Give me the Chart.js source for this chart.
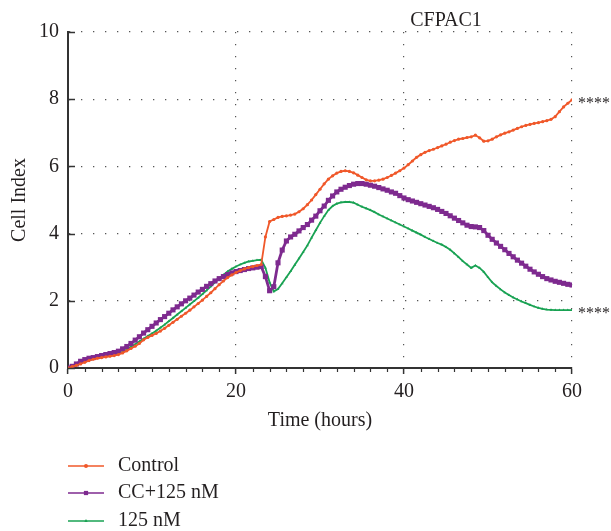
<!DOCTYPE html>
<html>
<head>
<meta charset="utf-8">
<title>CFPAC1 cell index</title>
<script src="https://cdn.jsdelivr.net/npm/chart.js"></script>
<style>
  html, body { margin: 0; padding: 0; background: #fff; }
  #wrap { width: 611px; height: 531px; }
</style>
</head>
<body>
<div id="wrap"><canvas id="cellChart" width="611" height="531"></canvas></div>
<script>
/* Cell index curves for CFPAC1, every half hour */

const chartTitle = 'CFPAC1';
const seriesNames = ['Control', 'CC+125 nM', '125 nM'];
const seriesColors = ['#f0582a', '#7e2a8f', '#19a253'];
const significance = '****';

// time axis (hours)
const times = [
  0, 0.5, 1, 1.5, 2, 2.5, 3, 3.5, 4, 4.5,
  5, 5.5, 6, 6.5, 7, 7.5, 8, 8.5, 9, 9.5,
  10, 10.5, 11, 11.5, 12, 12.5, 13, 13.5, 14, 14.5,
  15, 15.5, 16, 16.5, 17, 17.5, 18, 18.5, 19, 19.5,
  20, 20.5, 21, 21.5, 22, 22.5, 23, 23.5, 24, 24.5,
  25, 25.5, 26, 26.5, 27, 27.5, 28, 28.5, 29, 29.5,
  30, 30.5, 31, 31.5, 32, 32.5, 33, 33.5, 34, 34.5,
  35, 35.5, 36, 36.5, 37, 37.5, 38, 38.5, 39, 39.5,
  40, 40.5, 41, 41.5, 42, 42.5, 43, 43.5, 44, 44.5,
  45, 45.5, 46, 46.5, 47, 47.5, 48, 48.5, 49, 49.5,
  50, 50.5, 51, 51.5, 52, 52.5, 53, 53.5, 54, 54.5,
  55, 55.5, 56, 56.5, 57, 57.5, 58, 58.5, 59, 59.5,
  60
];

const control = [
  0, 0.04, 0.08, 0.12, 0.17, 0.22, 0.26, 0.29, 0.31, 0.33,
  0.35, 0.37, 0.40, 0.45, 0.51, 0.58, 0.65, 0.73, 0.84, 0.91,
  0.97, 1.03, 1.10, 1.18, 1.27, 1.36, 1.45, 1.54, 1.63, 1.72,
  1.82, 1.92, 2.02, 2.13, 2.24, 2.36, 2.48, 2.59, 2.69, 2.77,
  2.84, 2.90, 2.95, 2.99, 3.02, 3.05, 3.08, 3.90, 4.36, 4.42,
  4.48, 4.51, 4.53, 4.55, 4.58, 4.65, 4.74, 4.86, 5.00, 5.16,
  5.32, 5.48, 5.62, 5.72, 5.80, 5.85, 5.87, 5.85, 5.81, 5.74,
  5.67, 5.60, 5.57, 5.57, 5.59, 5.62, 5.67, 5.73, 5.80, 5.87,
  5.95, 6.05, 6.16, 6.27, 6.35, 6.42, 6.47, 6.51, 6.56, 6.61,
  6.66, 6.72, 6.77, 6.81, 6.83, 6.86, 6.88, 6.93, 6.85, 6.75,
  6.76, 6.81, 6.88, 6.94, 6.99, 7.03, 7.08, 7.13, 7.18, 7.22,
  7.25, 7.28, 7.30, 7.33, 7.36, 7.40, 7.48, 7.63, 7.77, 7.88,
  7.98
];

const ccPlus125 = [
  0, 0.05, 0.12, 0.20, 0.25, 0.29, 0.31, 0.34, 0.37, 0.40,
  0.43, 0.46, 0.50, 0.57, 0.64, 0.73, 0.83, 0.93, 1.04, 1.14,
  1.24, 1.34, 1.44, 1.53, 1.63, 1.73, 1.82, 1.91, 2.00, 2.08,
  2.17, 2.26, 2.34, 2.43, 2.51, 2.59, 2.66, 2.72, 2.78, 2.83,
  2.87, 2.90, 2.93, 2.96, 2.98, 3.00, 3.02, 2.72, 2.30, 2.42,
  3.13, 3.51, 3.78, 3.90, 3.98, 4.08, 4.18, 4.27, 4.40, 4.52,
  4.68, 4.82, 4.99, 5.12, 5.24, 5.32, 5.38, 5.43, 5.47, 5.49,
  5.49, 5.47, 5.44, 5.41, 5.37, 5.33, 5.29, 5.24, 5.20, 5.13,
  5.06, 5.01, 4.97, 4.93, 4.89, 4.85, 4.81, 4.77, 4.72, 4.66,
  4.60, 4.53, 4.46, 4.39, 4.32, 4.25, 4.21, 4.20, 4.18, 4.09,
  3.95, 3.83, 3.72, 3.62, 3.52, 3.41, 3.31, 3.21, 3.12, 3.03,
  2.94, 2.86, 2.79, 2.72, 2.66, 2.62, 2.58, 2.55, 2.52, 2.49,
  2.47
];

const nM125 = [
  0, 0.05, 0.10, 0.15, 0.19, 0.23, 0.27, 0.30, 0.32, 0.34,
  0.36, 0.39, 0.42, 0.48, 0.55, 0.63, 0.71, 0.79, 0.87, 0.95,
  1.03, 1.11, 1.20, 1.29, 1.39, 1.49, 1.59, 1.69, 1.79, 1.89,
  1.99, 2.09, 2.20, 2.31, 2.43, 2.55, 2.66, 2.77, 2.87, 2.95,
  3.02, 3.08, 3.13, 3.17, 3.19, 3.21, 3.22, 2.98, 2.55, 2.28,
  2.35, 2.52, 2.70, 2.88, 3.07, 3.26, 3.45, 3.65, 3.88, 4.10,
  4.32, 4.52, 4.70, 4.82, 4.89, 4.93, 4.94, 4.94, 4.92, 4.86,
  4.80, 4.75, 4.70, 4.64, 4.57, 4.51, 4.45, 4.39, 4.33, 4.27,
  4.21, 4.15, 4.09, 4.03, 3.97, 3.90, 3.84, 3.78, 3.72, 3.67,
  3.60, 3.52, 3.41, 3.30, 3.18, 3.08, 2.98, 3.05, 2.98, 2.86,
  2.70, 2.55, 2.44, 2.34, 2.25, 2.17, 2.10, 2.04, 1.98, 1.93,
  1.88, 1.83, 1.79, 1.76, 1.74, 1.73, 1.72, 1.72, 1.72, 1.72,
  1.72
];

// which series get the significance stars at their last point
const starredSeries = [0, 2];

const FONT = '"Liberation Serif", "Times New Roman", serif';
const TEXT = '#231f20';

function toPoints(values) {
  return times.map((t, i) => ({ x: t, y: values[i] }));
}

// extra drawing: minor ticks, inward y ticks, title, stars, stacked legend
const decorations = {
  id: 'decorations',
  afterDraw(chart) {
    const { ctx, chartArea, scales } = chart;
    const xs = scales.x, ys = scales.y;
    ctx.save();

    // minor ticks every 2 hours, below the x axis
    ctx.strokeStyle = '#333';
    ctx.lineWidth = 1.2;
    for (let t = xs.min; t <= xs.max; t += 2) {
      if (t % 20 === 0) continue;
      const px = Math.round(xs.getPixelForValue(t)) + 0.5;
      ctx.beginPath();
      ctx.moveTo(px, chartArea.bottom);
      ctx.lineTo(px, chartArea.bottom + 4);
      ctx.stroke();
    }

    // short ticks pointing into the plot on the y axis
    ctx.lineWidth = 1.5;
    ys.ticks.forEach(tk => {
      const py = Math.round(ys.getPixelForValue(tk.value)) + 0.5;
      ctx.beginPath();
      ctx.moveTo(chartArea.left, py);
      ctx.lineTo(chartArea.left + 7, py);
      ctx.stroke();
    });

    // title over the right half
    ctx.fillStyle = TEXT;
    ctx.font = '20px ' + FONT;
    ctx.textAlign = 'center';
    ctx.textBaseline = 'alphabetic';
    ctx.fillText(chartTitle, xs.getPixelForValue(45), chartArea.top - 6);

    // significance stars next to the end of the curves
    ctx.font = '16px ' + FONT;
    ctx.textAlign = 'left';
    starredSeries.forEach(di => {
      const pts = chart.getDatasetMeta(di).data;
      const last = pts[pts.length - 1];
      ctx.fillText(significance, last.x + 6, last.y + 8);
    });

    // legend, one item per row
    const rowY = [466, 493, 521];
    const x0 = chartArea.left;
    chart.data.datasets.forEach((ds, i) => {
      const y = rowY[i];
      ctx.strokeStyle = ds.borderColor;
      ctx.lineWidth = 1.5;
      ctx.beginPath();
      ctx.moveTo(x0, y);
      ctx.lineTo(x0 + 36, y);
      ctx.stroke();
      ctx.fillStyle = ds.borderColor;
      Chart.helpers.drawPoint(ctx, {
        pointStyle: ds.pointStyle,
        radius: ds.pointStyle === 'rect' ? 3 : 2,
        rotation: 0,
        borderWidth: 0
      }, x0 + 18, y);
      ctx.fillStyle = TEXT;
      ctx.font = '20px ' + FONT;
      ctx.textBaseline = 'middle';
      ctx.fillText(ds.label, x0 + 50, y);
    });

    ctx.restore();
  }
};

const dotted = [1.3, 10.7];

new Chart(document.getElementById('cellChart'), {
  type: 'line',
  data: {
    datasets: [
      {
        label: seriesNames[0],
        data: toPoints(control),
        borderColor: seriesColors[0],
        backgroundColor: seriesColors[0],
        borderWidth: 1.8,
        pointStyle: 'circle',
        pointRadius: 1.6,
        pointBorderWidth: 0,
        order: 0
      },
      {
        label: seriesNames[1],
        data: toPoints(ccPlus125),
        borderColor: seriesColors[1],
        backgroundColor: seriesColors[1],
        borderWidth: 2.8,
        pointStyle: 'rect',
        pointRadius: 3.6,
        pointBorderWidth: 0,
        order: 1
      },
      {
        label: seriesNames[2],
        data: toPoints(nM125),
        borderColor: seriesColors[2],
        backgroundColor: seriesColors[2],
        borderWidth: 1.8,
        pointStyle: 'triangle',
        pointRadius: 1.6,
        pointBorderWidth: 0,
        order: 2
      }
    ]
  },
  options: {
    responsive: false,
    animation: false,
    layout: { padding: { top: 32, right: 39, left: 0, bottom: 88 } },
    plugins: {
      legend: { display: false },
      title: { display: false },
      tooltip: { enabled: false }
    },
    scales: {
      x: {
        type: 'linear',
        min: 0,
        max: 60,
        afterFit(scale) { scale.height = 75; },
        ticks: {
          stepSize: 20,
          color: TEXT,
          padding: 6,
          maxRotation: 0,
          font: { family: FONT, size: 20 }
        },
        grid: {
          color: ctx => (ctx.tick && ctx.tick.value === 0) ? 'rgba(0,0,0,0)' : '#555',
          lineWidth: 1.2,
          tickColor: '#333',
          tickLength: 6,
          tickWidth: 1.5
        },
        border: { display: true, color: '#333', width: 2, dash: dotted },
        title: {
          display: true,
          text: 'Time (hours)',
          color: TEXT,
          font: { family: FONT, size: 20 },
          padding: { top: 0, bottom: 10 }
        }
      },
      y: {
        min: 0,
        max: 10,
        afterFit(scale) { scale.width = 68; },
        ticks: {
          stepSize: 2,
          color: TEXT,
          padding: 9,
          font: { family: FONT, size: 20 }
        },
        grid: {
          color: ctx => (ctx.tick && ctx.tick.value === 0) ? 'rgba(0,0,0,0)' : '#555',
          lineWidth: 1.2,
          drawTicks: false
        },
        border: { display: true, color: '#333', width: 2, dash: dotted },
        title: {
          display: true,
          text: 'Cell Index',
          color: TEXT,
          font: { family: FONT, size: 20 },
          padding: { top: 8, bottom: 0 }
        }
      }
    }
  },
  plugins: [decorations]
});
</script>
</body>
</html>
